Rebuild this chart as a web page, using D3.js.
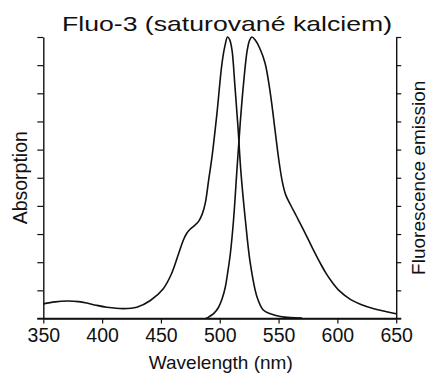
<!DOCTYPE html>
<html>
<head>
<meta charset="utf-8">
<script src="https://cdn.jsdelivr.net/npm/d3@7"></script>
<style>
  body { margin: 0; background: #fff; }
  svg { display: block; }
  text { font-family: "Liberation Sans", Arial, sans-serif; fill: #111; }
</style>
</head>
<body>
<svg width="429" height="374"></svg>
<script>
// absorption spectrum (normalised 0..1)
const absWl = [350, 360, 370, 380, 387, 395, 404, 418, 429.5, 441, 452, 459, 465, 469, 472, 475, 479, 482, 485, 487.7, 490.5, 493.4, 497.6, 501.9, 504.5, 506.6, 508.5, 510.4, 513, 515.5, 518, 521.8, 526, 531.7, 537, 543, 551.5, 560, 570];
const absVal = [0.052, 0.059, 0.062, 0.06, 0.055, 0.047, 0.04, 0.035, 0.04, 0.064, 0.106, 0.159, 0.23, 0.278, 0.303, 0.318, 0.332, 0.345, 0.37, 0.41, 0.49, 0.574, 0.728, 0.906, 0.97, 1.0, 0.99, 0.954, 0.82, 0.68, 0.52, 0.349, 0.195, 0.076, 0.03, 0.017, 0.007, 0.003, 0.002];

// fluorescence emission spectrum
const emWl = [488, 490.5, 495, 499, 502, 504.7, 507, 509, 511.7, 514.6, 517.5, 520.5, 523.4, 525.5, 527.4, 530, 534, 538.6, 543, 547, 550, 553, 556, 560, 565, 570, 575, 580, 585, 590, 595, 602, 611, 620, 631, 641, 650];
const emVal = [0, 0.005, 0.018, 0.04, 0.07, 0.111, 0.17, 0.23, 0.349, 0.527, 0.70, 0.847, 0.954, 0.99, 1.0, 0.99, 0.96, 0.906, 0.80, 0.669, 0.57, 0.49, 0.44, 0.405, 0.365, 0.325, 0.283, 0.24, 0.2, 0.163, 0.132, 0.097, 0.068, 0.05, 0.035, 0.025, 0.017];

const xTicks = [350, 400, 450, 500, 550, 600, 650];
const yTicks = d3.range(0, 1.0001, 0.1);

const svg = d3.select("svg");
const mLeft = 43.3, mRight = 396.2, mTop = 37, mBottom = 318.5;

const x = d3.scaleLinear().domain([350, 650]).range([mLeft, mRight]);
const y = d3.scaleLinear().domain([0, 1]).range([mBottom, mTop]);

const axisStyle = (g) => {
  g.select(".domain").attr("stroke", "#111").attr("stroke-width", 1.4);
  g.selectAll(".tick line").attr("stroke", "#111").attr("stroke-width", 1.2);
};

svg.append("g")
  .attr("transform", `translate(0,${mBottom})`)
  .call(d3.axisBottom(x).tickValues(xTicks).tickSize(5).tickSizeOuter(0).tickPadding(5))
  .call(axisStyle)
  .call((g) => g.selectAll(".tick text")
    .attr("font-size", 19.5)
    .attr("font-family", "Liberation Sans, Arial, sans-serif")
    .attr("fill", "#222"));

svg.append("g")
  .attr("transform", `translate(${mLeft},0)`)
  .call(d3.axisLeft(y).tickValues(yTicks).tickSize(6).tickSizeOuter(0).tickFormat(""))
  .call(axisStyle);

svg.append("g")
  .attr("transform", `translate(${mRight},0)`)
  .call(d3.axisRight(y).tickValues(yTicks).tickSize(5).tickSizeOuter(0).tickFormat(""))
  .call(axisStyle);

// bottom line extends under the corner ticks
svg.append("line")
  .attr("x1", mLeft - 6).attr("x2", mRight + 5)
  .attr("y1", mBottom).attr("y2", mBottom)
  .attr("stroke", "#111").attr("stroke-width", 1.4);

const line = d3.line()
  .x((d) => x(d[0]))
  .y((d) => y(d[1]))
  .curve(d3.curveCatmullRom.alpha(0.5));

svg.append("path")
  .datum(d3.zip(absWl, absVal))
  .attr("d", line)
  .attr("fill", "none")
  .attr("stroke", "#111")
  .attr("stroke-width", 1.6);

svg.append("path")
  .datum(d3.zip(emWl, emVal))
  .attr("d", line)
  .attr("fill", "none")
  .attr("stroke", "#111")
  .attr("stroke-width", 1.6);

svg.append("text")
  .attr("x", 62)
  .attr("y", 31)
  .attr("font-size", 21)
  .attr("textLength", 330)
  .attr("lengthAdjust", "spacingAndGlyphs")
  .attr("fill", "#000")
  .text("Fluo-3 (saturované kalciem)");

svg.append("text")
  .attr("x", (mLeft + mRight) / 2 + 1)
  .attr("y", 369)
  .attr("text-anchor", "middle")
  .attr("font-size", 19)
  .attr("fill", "#222")
  .text("Wavelength (nm)");

svg.append("text")
  .attr("transform", `translate(26.5,${(mTop + mBottom) / 2}) rotate(-90)`)
  .attr("text-anchor", "middle")
  .attr("font-size", 19.5)
  .attr("fill", "#222")
  .text("Absorption");

svg.append("text")
  .attr("transform", `translate(425,${(mTop + mBottom) / 2}) rotate(-90)`)
  .attr("text-anchor", "middle")
  .attr("font-size", 19)
  .attr("fill", "#222")
  .text("Fluorescence emission");
</script>
</body>
</html>
